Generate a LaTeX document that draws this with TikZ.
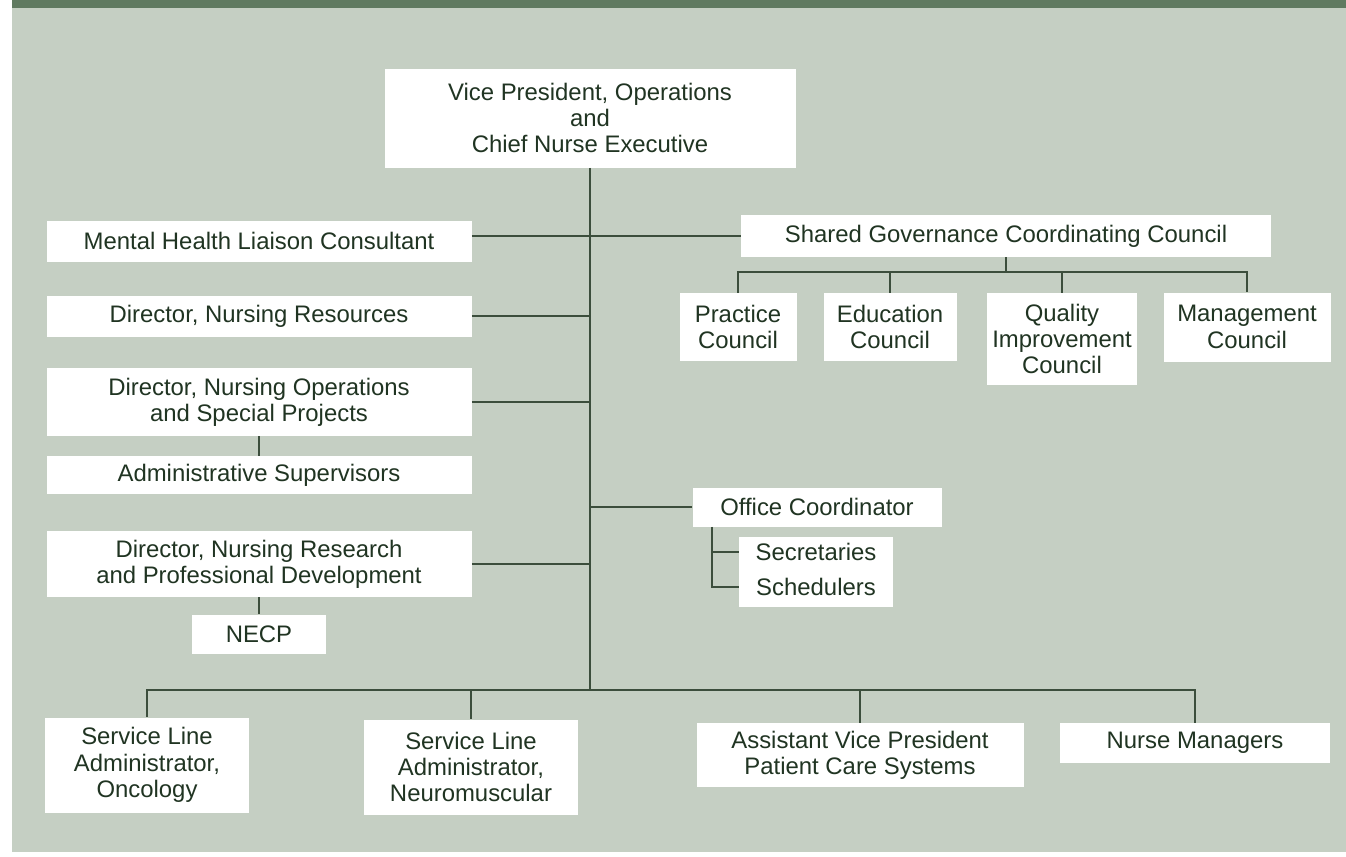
\documentclass[tikz,border=0pt]{standalone}
\usepackage{fontspec}
\setmainfont{Liberation Sans}
\usetikzlibrary{positioning}

\definecolor{bggreen}{RGB}{197,207,195}
\definecolor{bandgreen}{RGB}{96,122,96}
\definecolor{inkgreen}{RGB}{32,52,34}
\definecolor{linegreen}{RGB}{60,78,60}

\tikzset{
	unit/.style={fill=white, text=inkgreen, align=center, inner sep=0pt,
		font=\fontsize{13.6}{15}\selectfont},
	label/.style={text=inkgreen, inner sep=0pt, font=\fontsize{13.6}{15}\selectfont},
	boxsize/.style 2 args={minimum width=#1*0.02cm, minimum height=#2*0.02cm},
	link/.style={draw=linegreen, line width=0.9pt}
}

\begin{document}
\begin{tikzpicture}[x=0.02cm, y=-0.02cm]
	\useasboundingbox (0,0) rectangle (1346,856);
	\fill[white] (0,0) rectangle (1346,856);
	\fill[bggreen] (12,0) rectangle (1346,852);
	\fill[bandgreen] (12,0) rectangle (1346,8);

	% top of the chart
	\node[unit, boxsize={411}{99}] (vp) at (590,118) {Vice President, Operations\\and\\Chief Nurse Executive};

	% staff on the left
	\node[unit, boxsize={425}{41}] (mh) at (259,241) {Mental Health Liaison Consultant};
	\node[unit, boxsize={425}{41}] (dnr) at (259,316) {Director, Nursing Resources};
	\node[unit, boxsize={425}{68}] (dno) at (259,402) {Director, Nursing Operations\\and Special Projects};
	\node[unit, boxsize={425}{38}] (adm) at (259,475) {Administrative Supervisors};
	\node[unit, boxsize={425}{66}] (dnrpd) at (259,564) {Director, Nursing Research\\and Professional Development};
	\node[unit, boxsize={134}{39}] (necp) at (259,634) {NECP};

	% councils
	\node[unit, boxsize={530}{42}] (sgcc) at (1006,236) {Shared Governance Coordinating Council};
	\node[unit, boxsize={117}{68}] (pc) at (738,327) {Practice\\Council};
	\node[unit, boxsize={133}{68}] (ec) at (890,327) {Education\\Council};
	\node[unit, boxsize={150}{92}] (qic) at (1062,339) {Quality\\Improvement\\Council};
	\node[unit, boxsize={167}{69}] (mc) at (1247,327) {Management\\Council};

	% office
	\node[unit, boxsize={249}{39}] (oc) at (817,507) {Office Coordinator};
	\node[unit, boxsize={154}{70}] (secbox) at (816,572) {};
	\node[label] (secr) at (816,552) {Secretaries};
	\node[label] (sched) at (816,587) {Schedulers};

	% line units
	\node[unit, boxsize={204}{95}] (slo) at (147,765) {Service Line\\Administrator,\\Oncology};
	\node[unit, boxsize={214}{95}] (sln) at (471,767) {Service Line\\Administrator,\\Neuromuscular};
	\node[unit, boxsize={327}{64}] (avp) at (860,755) {Assistant Vice President\\Patient Care Systems};
	\node[unit, boxsize={270}{40}] (nm) at (1195,743) {Nurse Managers};

	\coordinate (hub) at (590,690);
	\coordinate (cbus) at (1006,272);

	\draw[link]
		(vp.south) -- (hub)
		(mh.east |- sgcc.west) -- (sgcc.west)
		(dnr.east) -- (dnr.east -| vp.south)
		(dno.east) -- (dno.east -| vp.south)
		(dnrpd.east) -- (dnrpd.east -| vp.south)
		(oc.west) -- (oc.west -| vp.south)

		(dno.south) -- (adm.north)
		(dnrpd.south) -- (necp.north)

		(sgcc.south) -- (cbus)
		(cbus) -| (pc.north)
		(cbus) -| (ec.north)
		(cbus) -| (qic.north)
		(cbus) -| (mc.north)

		(oc.south -| 712,0) |- (secbox.west |- secr)
		(oc.south -| 712,0) |- (secbox.west |- sched)

		(hub) -| (slo.north)
		(hub) -| (sln.north)
		(hub) -| (avp.north)
		(hub) -| (nm.north)
		;
\end{tikzpicture}
\end{document}
